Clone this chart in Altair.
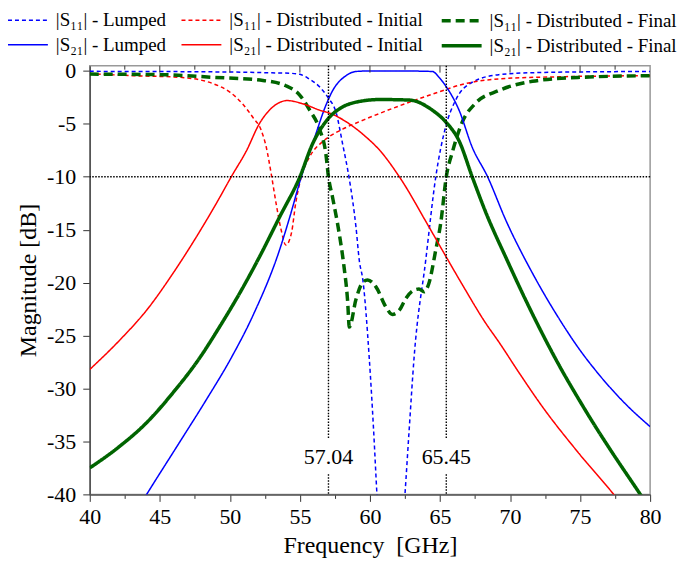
import altair as alt
import pandas as pd

# ---------------- data ----------------
series_names = [
    "|S₁₁| - Lumped",
    "|S₁₁| - Distributed - Initial",
    "|S₁₁| - Distributed - Final",
    "|S₂₁| - Lumped",
    "|S₂₁| - Distributed - Initial",
    "|S₂₁| - Distributed - Final",
]

s11_lumped_f = [40, 44, 48, 51, 53, 54.3, 55.0, 55.6, 56.4, 57.0, 57.6, 58.05, 58.5, 58.76, 59.0, 59.24,
                59.5, 59.95, 60.26, 60.5, 61.5, 62.5, 62.8, 63.15, 63.98, 64.7, 65.4, 66.1, 67.3, 69.2,
                72, 76, 80]
s11_lumped_db = [-0.04, -0.05, -0.08, -0.12, -0.18, -0.22, -0.32, -0.7, -1.5, -2.5, -4.0, -6.9, -10.0, -12.2,
                 -14.7, -17.9, -19.8, -27.1, -33.9, -40.0, -55.0, -40.0, -33.9, -27.1, -17.9, -10.0, -5.3,
                 -2.8, -1.07, -0.35, -0.15, -0.08, -0.05]

s11_init_f = [40, 42.9, 46.4, 48.8, 50.0, 50.9, 51.65, 52.24, 52.6, 52.95, 53.3, 53.66, 54.0, 54.4, 54.7,
              55.1, 55.7, 56.6, 57.1, 58.05, 59.6, 62.1, 64.45, 66.8, 69.2, 73.95, 80]
s11_init_db = [-0.25, -0.44, -0.6, -1.2, -2.0, -3.1, -4.4, -5.6, -7.2, -9.7, -12.5, -15.0, -16.45, -15.3,
               -12.5, -10.0, -8.1, -6.7, -6.2, -5.5, -4.6, -3.3, -2.2, -1.2, -0.75, -0.54, -0.45]

s11_final_f = [40, 45, 48.8, 52.36, 54.0, 55.0, 55.7, 56.4, 56.85, 57.04, 57.34, 57.8, 58.15, 58.4, 58.53,
               59.0, 59.47, 59.83, 60.43, 61.14, 61.6, 62.1, 62.56, 63.03, 63.5, 63.87, 64.2, 64.7, 65.05,
               65.45, 65.9, 66.6, 67.5, 69.2, 71.6, 75.1, 80]
s11_final_db = [-0.3, -0.35, -0.6, -0.9, -1.4, -2.3, -3.7, -5.5, -7.8, -10.0, -12.0, -15.3, -18.5, -21.6,
                -24.2, -21.6, -20.0, -19.75, -20.4, -22.3, -23.0, -22.6, -21.5, -20.8, -20.6, -20.85, -20.1,
                -16.9, -14.4, -10.0, -7.6, -4.8, -3.1, -1.85, -0.98, -0.6, -0.45]

s21_lumped_f = [43.5, 44.06, 46.4, 48.3, 50.1, 51.65, 53.55, 54.3, 55.1, 55.9, 56.9, 57.34, 58.3, 59.0, 60,
                62, 64.46, 64.93, 65.4, 66.36, 67.3, 68.4, 69.7, 71.6, 73.5, 74.9, 76.3, 78.2, 80]
s21_lumped_db = [-41.2, -40.0, -35.1, -31.1, -27.1, -23.1, -16.9, -13.7, -10.0, -6.9, -3.1, -1.85, -0.44,
                 -0.05, 0.0, 0.0, -0.05, -0.6, -1.4, -3.7, -7.2, -10.0, -14.1, -19.1, -23.4, -26.2,
                 -28.6, -31.4, -33.6]

s21_init_f = [40, 42.16, 44.06, 45.95, 47.6, 49.04, 50.1, 51.2, 52.1, 53.07, 54.1, 55.2, 56.4, 57.34,
              58.3, 59.6, 60.7, 62.1, 64.2, 65.5, 66.6, 68.25, 69.2, 70.64, 72.3, 74.9, 77.4, 78]
s21_init_db = [-28.2, -25.4, -22.6, -19.1, -15.7, -12.5, -10.0, -7.5, -5.0, -3.4, -2.8, -3.1, -3.7,
               -4.1, -4.8, -6.1, -7.5, -10.0, -14.7, -17.7, -20.2, -23.8, -25.6, -28.5, -31.7, -36.1, -40.0,
               -41.0]

s21_final_f = [40, 42, 44, 46, 47.85, 49.3, 50.7, 52.1, 53.55, 55.0, 55.9, 56.9, 58.05, 59.0,
               60.7, 62.8, 64.45, 65.4, 66.36, 67.3, 68.25, 69.8, 70.85, 72.3, 73.5, 74.9, 76.1, 77.27,
               79.3, 80]
s21_final_db = [-37.5, -35.6, -33.3, -30.3, -27.1, -24.1, -21.0, -17.6, -13.8, -10.0, -6.9, -4.7,
                -3.4, -2.95, -2.7, -2.75, -3.7, -4.8, -6.6, -10.0, -13.3, -17.9, -20.9, -24.8, -27.8,
                -31.0, -33.6, -36.0, -40.0, -41.4]

marker_freqs = [57.04, 65.45]
marker_labels = ["57.04", "65.45"]
threshold_db = [-10]

x_tick_values = [40 + 2.5 * i for i in range(17)]
y_tick_values = [-40 + 2.5 * i for i in range(17)]
x_major = [45, 50, 55, 60, 65, 70, 75]
x_minor = [42.5, 47.5, 52.5, 57.5, 62.5, 67.5, 72.5, 77.5]

# ---------------- tables ----------------
all_f = [s11_lumped_f, s11_init_f, s11_final_f, s21_lumped_f, s21_init_f, s21_final_f]
all_db = [s11_lumped_db, s11_init_db, s11_final_db, s21_lumped_db, s21_init_db, s21_final_db]
rows = []
for name, fs, dbs in zip(series_names, all_f, all_db):
    for f, d in zip(fs, dbs):
        rows.append({"series": name, "f": f, "db": d})
curves = pd.DataFrame(rows)

marker_df = pd.DataFrame({"f": marker_freqs, "label": marker_labels})
seg_rows = []
for f in marker_freqs:
    seg_rows.append({"f": f, "db": 0.5, "db2": -34.8})
    seg_rows.append({"f": f, "db": -38.1, "db2": -40.0})
seg_df = pd.DataFrame(seg_rows)
thr_df = pd.DataFrame({"db": threshold_db})
major_df = pd.DataFrame({"f": x_major})
minor_df = pd.DataFrame({"f": x_minor})

FONT = "Liberation Serif"
GREEN = "#006400"
x_scale = alt.Scale(domain=[40, 80], nice=False, zero=False)
y_scale = alt.Scale(domain=[-40, 0.5], nice=False, zero=False)

tick_size = {"condition": {"test": "datum.value % 5 !== 0", "value": 4}, "value": 7}

x_axis = alt.Axis(values=x_tick_values, labelExpr="datum.value % 5 === 0 ? '' + datum.value : ''",
                  title="Frequency\u00a0 [GHz]", grid=False, tickSize=tick_size, labelFontSize=22,
                  titleFontSize=24, labelFont=FONT, titleFont=FONT, titleFontWeight="normal",
                  labelColor="black", titleColor="black", domainColor="#555", domainWidth=1.5,
                  tickColor="#333", labelPadding=5, titlePadding=6, labelFlush=False)
y_axis = alt.Axis(values=y_tick_values, labelExpr="datum.value % 5 === 0 ? '' + datum.value : ''",
                  title="Magnitude [dB]", grid=False, tickSize=tick_size, labelFontSize=22,
                  titleFontSize=24, labelFont=FONT, titleFont=FONT, titleFontWeight="normal",
                  labelColor="black", titleColor="black", domainColor="#555", domainWidth=1.5,
                  tickColor="#333", labelPadding=7, titlePadding=6, labelFlush=False)

X = lambda: alt.X("f:Q", scale=x_scale, axis=x_axis)
Y = lambda: alt.Y("db:Q", scale=y_scale, axis=y_axis)

legend = alt.Legend(title=None, orient="none", legendX=-74, legendY=-57, columns=3,
                    direction="horizontal", symbolType="M-2,0H2", symbolSize=400,
                    labelFont=FONT, labelFontSize=19, labelLimit=400, columnPadding=12,
                    rowPadding=3, labelOffset=16, labelColor="black")

color_scale = alt.Scale(domain=series_names,
                        range=["#0000ff", "#ff0000", GREEN, "#0000ff", "#ff0000", GREEN])
dash_scale = alt.Scale(domain=series_names,
                       range=[[4, 3], [4, 3], [9, 5], [1, 0], [1, 0], [1, 0]])
width_scale = alt.Scale(type="ordinal", domain=series_names, range=[1.5, 1.5, 3.5, 1.5, 1.5, 3.5])

lines = alt.Chart(curves).mark_line(clip=True, interpolate="monotone").encode(
    x=X(), y=Y(),
    color=alt.Color("series:N", scale=color_scale, legend=legend),
    strokeDash=alt.StrokeDash("series:N", scale=dash_scale, legend=legend),
    strokeWidth=alt.StrokeWidth("series:N", scale=width_scale, legend=legend),
)

thr = alt.Chart(thr_df).mark_rule(color="black", strokeDash=[1.5, 1.5], strokeWidth=1.4).encode(
    y=Y()
)
vsegs = alt.Chart(seg_df).mark_rule(color="black", strokeDash=[1.5, 1.5], strokeWidth=1.4).encode(
    x=X(), y=Y(), y2="db2:Q",
)
labels = alt.Chart(marker_df).mark_text(font=FONT, fontSize=22, color="black", baseline="middle").encode(
    x=X(), y=alt.datum(-36.5), text="label:N",
)
top_major = alt.Chart(major_df).mark_rule(color="#333", strokeWidth=1).encode(
    x=X(), y=alt.value(0), y2=alt.value(7)
)
top_minor = alt.Chart(minor_df).mark_rule(color="#333", strokeWidth=1).encode(
    x=X(), y=alt.value(0), y2=alt.value(4)
)

chart = alt.layer(lines, thr, vsegs, labels, top_major, top_minor).properties(
    width=562, height=430,
    autosize=alt.AutoSizeParams(type="none"),
    padding={"left": 82, "top": 57, "right": 40, "bottom": 70},
).configure(font=FONT, background="white").configure_view(
    stroke="#999", strokeWidth=1.5
).configure_axis(labelFont=FONT, titleFont=FONT).configure_text(font=FONT)

chart.save("out.html", embed_options={"renderer": "svg", "actions": False})
